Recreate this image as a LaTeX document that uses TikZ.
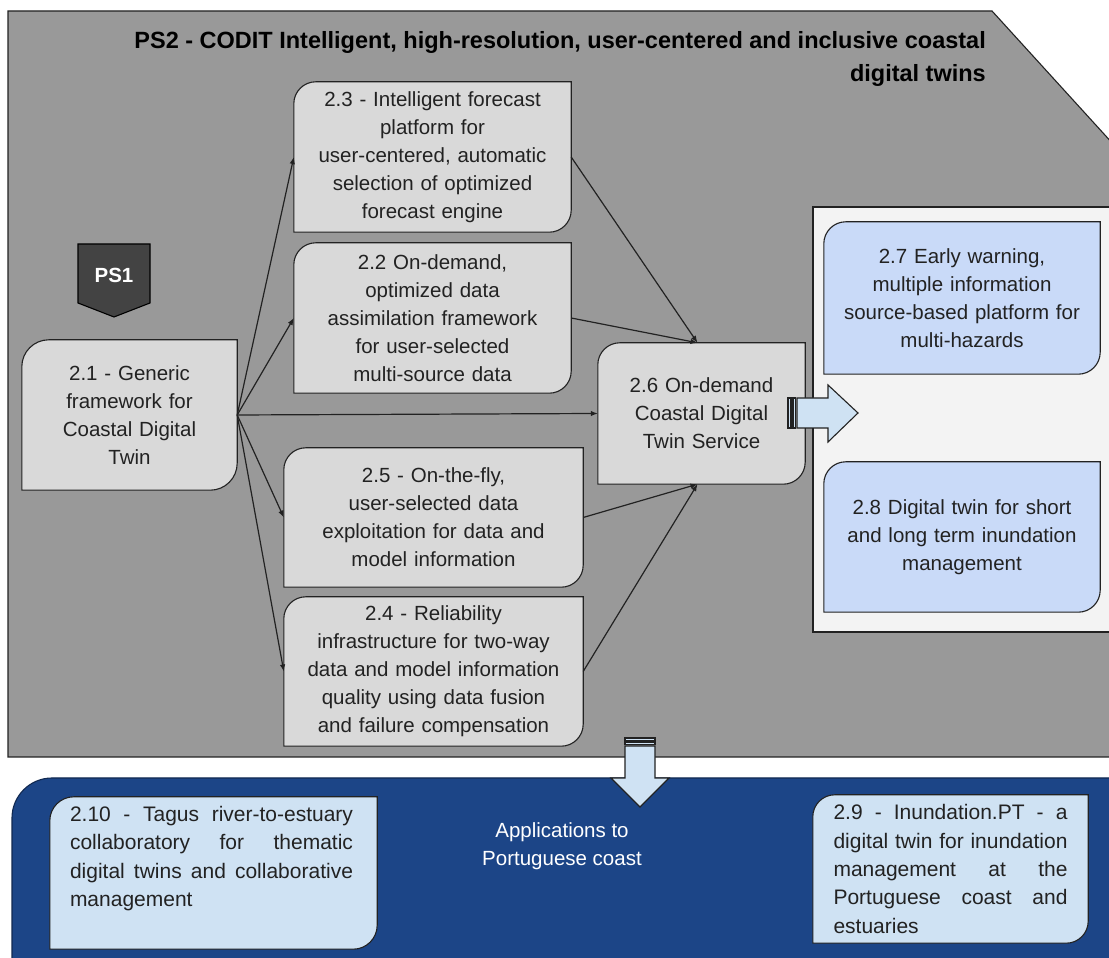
\documentclass[tikz,border=0pt]{standalone}
\usepackage{fontspec}
\setmainfont{Liberation Sans}
\usetikzlibrary{arrows.meta}
\pgfdeclarelayer{background}
\pgfsetlayers{background,main}

\definecolor{panelgray}{HTML}{999999}
\definecolor{boxgray}{HTML}{D9D9D9}
\definecolor{panellight}{HTML}{F3F3F3}
\definecolor{cornflower}{HTML}{C9DAF8}
\definecolor{paleblue}{HTML}{CFE2F3}
\definecolor{navy}{HTML}{1C4587}
\definecolor{tabgray}{HTML}{434343}
\definecolor{ink}{HTML}{222222}

% rectangle with rounded top-left and bottom-right corners around a node
\newcommand\diagshape[3]{%
  \path[#3] (#1.south west) -- ([yshift=-#2]#1.north west)
    arc[start angle=180,end angle=90,radius=#2]
    -- (#1.north east) -- ([yshift=#2]#1.south east)
    arc[start angle=0,end angle=-90,radius=#2] -- cycle;}

% one justified line of a given width
\newcommand\jline[2]{\makebox[#1][s]{#2}}

\tikzset{
  box/.style={rectangle, inner sep=0pt, align=center, text=ink,
    font=\fontsize{20.5}{28}\selectfont},
  appbox/.style={rectangle, inner sep=0pt, align=left, text=ink,
    font=\fontsize{21}{28.3}\selectfont},
  grayfill/.style={fill=boxgray, draw=ink, line width=1.1pt},
  cornfill/.style={fill=cornflower, draw=ink, line width=1.1pt},
  palefill/.style={fill=paleblue, draw=ink, line width=1.1pt},
  fatarrow/.style={fill=paleblue, draw=ink, line width=1.1pt, line join=miter},
  conn/.style={-{Latex[length=7pt,width=5.5pt]}, line width=1.2pt, draw=ink},
  titletxt/.style={inner sep=0pt, align=right, text=black,
    font=\fontsize{23.5}{33}\selectfont\bfseries},
}

\begin{document}
\begin{tikzpicture}[x=1pt,y=1pt]
\useasboundingbox (0,0) rectangle (1109,958);

% panels
\begin{pgfonlayer}{background}
  \fill[white] (0,0) rectangle (1109,958);
  \draw[fill=panelgray, draw=ink, line width=1.1pt]
    (8,947) -- (992,947) -- (1124,802) -- (1124,201) -- (8,201) -- cycle;
  \draw[fill=panellight, draw=ink, line width=1.1pt]
    (813,751) rectangle (1124,326);
  \draw[fill=navy, draw=navy!60!black, line width=1.1pt]
    (12,-10) -- (12,140) arc[start angle=180,end angle=90,radius=40pt]
    -- (1124,180) -- (1124,-10) -- cycle;
\end{pgfonlayer}

% title
\node[titletxt, anchor=east] (title) at (986,899.5)
  {PS2 - CODIT Intelligent, high-resolution, user-centered and inclusive coastal\\digital twins};

% PS1 tab
\draw[fill=tabgray, draw=black, line width=1.1pt]
  (78,714) -- (150,714) -- (150,655) -- (114,641) -- (78,655) -- cycle;
\node[text=white, inner sep=0pt, font=\fontsize{20.5}{24}\selectfont\bfseries]
  (ps1) at (114,683) {PS1};

% work packages
\node[box, minimum width=215pt, minimum height=150pt, text width=205pt]
  (b21) at (129.5,543) {2.1 - Generic\\framework for\\Coastal Digital\\Twin};
\node[box, minimum width=277pt, minimum height=150pt, text width=267pt]
  (b23) at (432.5,801) {2.3 - Intelligent forecast\\platform for\\user-centered, automatic\\selection of optimized\\forecast engine};
\node[box, minimum width=277pt, minimum height=150pt, text width=267pt]
  (b22) at (432.5,640) {2.2 On-demand,\\optimized data\\assimilation framework\\for user-selected\\multi-source data};
\node[box, minimum width=207pt, minimum height=141pt, text width=197pt]
  (b26) at (701.5,544.5) {2.6 On-demand\\Coastal Digital\\Twin Service};
\node[box, minimum width=299pt, minimum height=139pt, text width=289pt]
  (b25) at (433.5,440.5) {2.5 - On-the-fly,\\user-selected data\\exploitation for data and\\model information};
\node[box, minimum width=299pt, minimum height=149pt, text width=289pt]
  (b24) at (433.5,286.5) {2.4 - Reliability\\infrastructure for two-way\\data and model information\\quality using data fusion\\and failure compensation};
\node[box, minimum width=276pt, minimum height=152pt, text width=266pt]
  (b27) at (962,660) {2.7 Early warning,\\multiple information\\source-based platform for\\multi-hazards};
\node[box, minimum width=276pt, minimum height=150pt, text width=266pt]
  (b28) at (962,421) {2.8 Digital twin for short\\and long term inundation\\management};

% applications
\node[rectangle, inner sep=0pt, minimum width=327pt, minimum height=152pt]
  (b210) at (213.5,85) {};
\node[appbox] (t210) at (211.5,99.5)
  {\jline{283pt}{2.10 - Tagus river-to-estuary}\\
   \jline{283pt}{collaboratory for thematic}\\
   \jline{283pt}{digital twins and collaborative}\\
   management};
\node[appbox, minimum width=275pt, minimum height=148pt]
  (b29) at (950.5,89)
  {\jline{234pt}{2.9 - Inundation.PT - a}\\
   \jline{234pt}{digital twin for inundation}\\
   \jline{234pt}{management at the}\\
   \jline{234pt}{Portuguese coast and}\\
   estuaries};
\node[inner sep=0pt, align=center, text=white, font=\fontsize{20.5}{28}\selectfont]
  (apps) at (562,112) {Applications to\\Portuguese coast};

% box outlines behind the texts
\begin{pgfonlayer}{background}
  \diagshape{b21}{27pt}{grayfill}
  \diagshape{b23}{22pt}{grayfill}
  \diagshape{b22}{22pt}{grayfill}
  \diagshape{b26}{22pt}{grayfill}
  \diagshape{b25}{22pt}{grayfill}
  \diagshape{b24}{22pt}{grayfill}
  \diagshape{b27}{22pt}{cornfill}
  \diagshape{b28}{22pt}{cornfill}
  \diagshape{b210}{24pt}{palefill}
  \diagshape{b29}{22pt}{palefill}
\end{pgfonlayer}

% connectors
\coordinate (in26top) at ([xshift=-4pt]b26.north);
\coordinate (in26bot) at ([xshift=-4pt]b26.south);
\draw[conn] (b21.east) -- (b23.west);
\draw[conn] (b21.east) -- (b22.west);
\draw[conn] (b21.east) -- (b26.west);
\draw[conn] (b21.east) -- (b25.west);
\draw[conn] (b21.east) -- (b24.west);
\draw[conn] (b23.east) -- (in26top);
\draw[conn] (b22.east) -- (in26top);
\draw[conn] (b25.east) -- (in26bot);
\draw[conn] (b24.east) -- (in26bot);

% striped block arrow to the outputs
\draw[fatarrow] (788,530) rectangle (791,560);
\draw[fatarrow] (793,530) rectangle (795.5,560);
\draw[fatarrow] (797,560) -- (828,560) -- (828,573) -- (858,545)
  -- (828,516) -- (828,530) -- (797,530) -- cycle;

% striped block arrow down to the applications
\draw[fatarrow] (625,217) rectangle (655,220);
\draw[fatarrow] (625,213.5) rectangle (655,215.5);
\draw[fatarrow] (625,212) -- (625,180) -- (611,180) -- (640,151)
  -- (669,180) -- (655,180) -- (655,212) -- cycle;
\end{tikzpicture}
\end{document}
